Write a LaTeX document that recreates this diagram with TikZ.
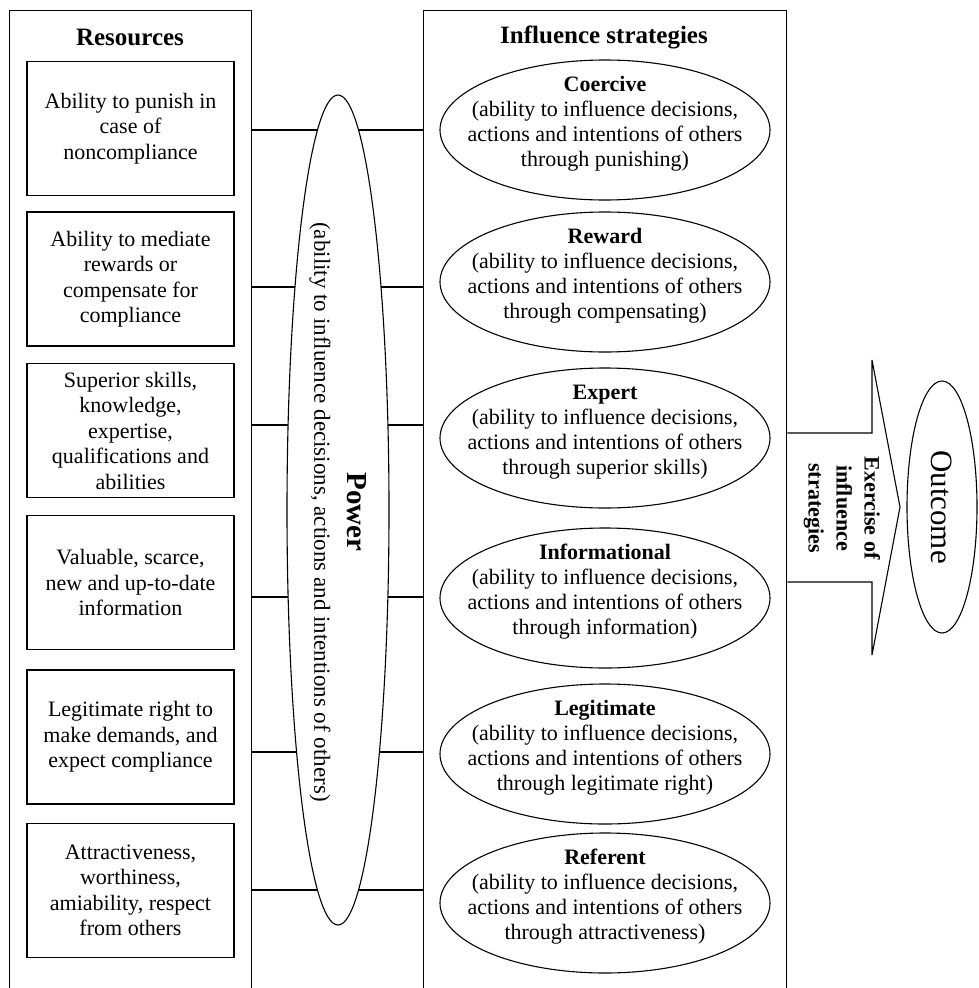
\documentclass[tikz,border=0pt]{standalone}
\usepackage{fontspec}
\setmainfont{Liberation Serif}
\usepackage{tikz}
\usetikzlibrary{shapes.geometric, calc}

\begin{document}
\begin{tikzpicture}[
  x=1pt, y=-1pt,
  font=\fontsize{22}{25.5}\selectfont,
  colframe/.style={draw, line width=1.3pt, anchor=north west, minimum height=990pt, inner sep=0pt},
  resource/.style={draw, line width=1.3pt, minimum width=207pt, minimum height=134pt, align=center, inner sep=2pt},
  strategy/.style={ellipse, draw, line width=1.1pt, minimum width=330pt, minimum height=140pt},
  strattext/.style={align=center, font=\fontsize{22}{25}\selectfont, yshift=6pt},
  heading/.style={font=\fontsize{25}{28}\selectfont\bfseries},
  link/.style={line width=1.3pt},
]
\useasboundingbox (0,0) rectangle (979,988);
\clip (0,0) rectangle (979,988);

% Columns
\node[colframe, minimum width=242pt] (resframe) at (9,10) {};
\node[colframe, minimum width=363pt] (stratframe) at (423,10) {};
\node[heading] (restitle) at (130,37) {Resources};
\node[heading] (strattitle) at (604,37) {Influence strategies};

% Links through the power ellipse
\foreach \y in {130,287,425,597,752,890}
  \draw[link] (resframe.east |- 0,\y) -- (stratframe.west |- 0,\y);

% Power
\node[ellipse, draw, line width=1.1pt, fill=white, minimum width=102pt, minimum height=830pt] (power) at (338,510) {};
\node[rotate=-90, align=center, font=\fontsize{23}{25}\selectfont] (powertext) at (338,512)
  {{\fontsize{29}{30}\selectfont\bfseries Power}\\[8pt](ability to influence decisions, actions and intentions of others)};

% Resources
\node[resource] (r1) at (130.5,128.5) {Ability to punish in\\case of\\noncompliance};
\node[resource] (r2) at (130.5,279) {Ability to mediate\\rewards or\\compensate for\\compliance};
\node[resource] (r3) at (130.5,430.5) {Superior skills,\\knowledge,\\expertise,\\qualifications and\\abilities};
\node[resource] (r4) at (130.5,582.5) {Valuable, scarce,\\new and up-to-date\\information};
\node[resource] (r5) at (130.5,737) {Legitimate right to\\make demands, and\\expect compliance};
\node[resource] (r6) at (130.5,890.5) {Attractiveness,\\worthiness,\\amiability, respect\\from others};

% Influence strategies
\foreach \nm/\y/\ttl/\how in {coercive/130/Coercive/punishing, reward/282/Reward/compensating,
    expert/438/Expert/superior skills, informational/598/Informational/information,
    legitimate/754/Legitimate/legitimate right, referent/903/Referent/attractiveness}{
  \node[strategy] (\nm) at (605,\y) {};
  \node[strattext] (\nm-text) at (\nm) {\textbf{\ttl}\\(ability to influence decisions,\\actions and intentions of others\\through \how)};
}

% Exercise arrow and outcome
\draw[line width=1.1pt] (stratframe.east |- 0,433) -- (872,433) -- (872,360) -- (900,507)
  -- (872,655) -- (872,582) -- (stratframe.east |- 0,582);
\node[rotate=-90, align=center, font=\fontsize{22}{28}\selectfont\bfseries] (exercise) at (842,508)
  {Exercise of\\influence\\strategies};
\node[ellipse, draw, line width=1.1pt, minimum width=70pt, minimum height=252pt] (outcome) at (942,507) {};
\node[rotate=-90, font=\fontsize{31}{34}\selectfont] (outcometext) at (outcome) {Outcome};
\end{tikzpicture}
\end{document}
